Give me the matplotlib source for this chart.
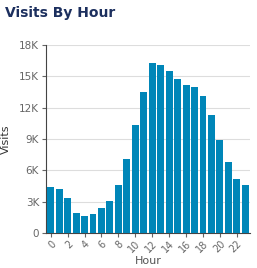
import matplotlib.pyplot as plt
import numpy as np

hours = list(range(24))
visits = [4450, 4230, 3400, 1900, 1650, 1840, 2380, 3110, 4600, 7100,
          10330, 13450, 16300, 16100, 15500, 14720, 14150, 13930, 13100, 11290,
          8930, 6800, 5180, 4600]
yticks = [0, 3000, 6000, 9000, 12000, 15000, 18000]
ylabels = ['0', '3K', '6K', '9K', '12K', '15K', '18K']

fig = plt.figure(figsize=(2.57, 2.68), dpi=100)
ax = fig.add_axes([46/257, 1 - 233.3/268, 204/257, 188.6/268])

ax.bar(hours, visits, width=0.82, color='#0086b8', zorder=3)
ax.set_xlim(-0.55, 23.55)
ax.set_ylim(0, 18000)
ax.set_yticks(yticks)
ax.set_yticklabels(ylabels)
ax.set_xticks(hours[::2])
ax.set_xticklabels([str(h) for h in hours[::2]], rotation=45, ha='right',
                   rotation_mode='anchor')
ax.grid(axis='y', color='#dddddd', linewidth=0.8, zorder=0)
for s in ['top', 'right']:
    ax.spines[s].set_visible(False)
for s in ['left', 'bottom']:
    ax.spines[s].set_color('#444444')
    ax.spines[s].set_linewidth(0.8)
ax.tick_params(labelsize=7.5, colors='#666666', length=3, width=0.8, pad=2)
ax.tick_params(axis='x', labelsize=7, pad=1)
ax.set_xlabel('Hour', fontsize=8, color='#555555', labelpad=1)
ax.set_ylabel('Visits', fontsize=8, color='#333333', labelpad=6)

fig.text(5/257, 1 - 13/268, 'Visits By Hour', fontsize=10, fontweight='bold',
         color='#1c2f5e', va='center', ha='left')

fig.savefig('out.png', dpi=100)
